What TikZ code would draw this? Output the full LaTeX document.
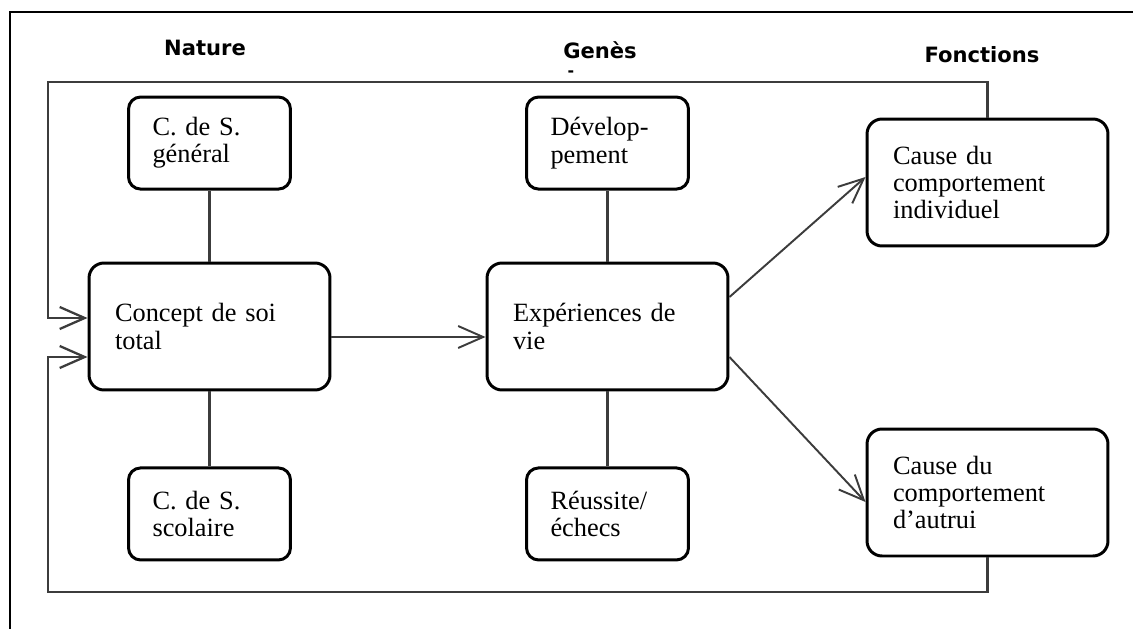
\documentclass[tikz,border=0pt]{standalone}
\usepackage{fontspec}
\setmainfont{Liberation Serif}
\newfontfamily\headfont{DejaVu Sans}
\usepackage{tikz}
\usetikzlibrary{arrows.meta, positioning}
\definecolor{linkgrey}{RGB}{60,60,60}
\tikzset{
  cssmall/.style={rectangle, rounded corners=0.24cm, draw=black, line width=1.7pt,
    minimum width=3.24cm, minimum height=1.84cm, text width=2.28cm, inner sep=0pt,
    align=left, font=\fontsize{15}{15.5}\selectfont},
  csbig/.style={rectangle, rounded corners=0.3cm, draw=black, line width=1.7pt,
    minimum width=4.82cm, minimum height=2.54cm, text width=3.78cm, inner sep=0pt,
    align=left, font=\fontsize{15}{15.5}\selectfont},
  cshead/.style={anchor=base, inner sep=0pt, font=\headfont\bfseries\fontsize{12}{14}\selectfont},
  csflow/.style={-{Straight Barb[length=5mm, width=4.4mm]}, draw=linkgrey, line width=1.1pt},
  cslink/.style={draw=linkgrey, line width=1.3pt},
  csloop/.style={-{Straight Barb[length=5mm, width=4.4mm]}, draw=linkgrey, line width=1.3pt},
}
\begin{document}
\begin{tikzpicture}[x=0.02cm, y=-0.02cm]
\useasboundingbox (0,0) rectangle (1133,629);
\draw[line width=1.1pt] (1133,12) -- (10,12) -- (10,629);

\node[cshead] (nature) at (205,55) {Nature};
\node[cshead] (genes) at (600,58) {Genès};
\node[cshead, font=\headfont\bfseries\fontsize{9}{10}\selectfont] (genesmark) at (571,76) {-};
\node[cshead] (fonctions) at (982,62) {Fonctions};

\node[csbig] (concept) at (209.5,326.5) {Concept de soi\\total};
\node[cssmall, above=1.42cm of concept] (general) {C. de S.\\général};
\node[cssmall, below=1.5cm of concept] (scolaire) {C. de S.\\scolaire};

\node[csbig] (vie) at (607.5,326.5) {Expériences de\\vie};
\node[cssmall, above=1.42cm of vie] (devel) {Dévelop-\\pement};
\node[cssmall, below=1.5cm of vie] (reussite) {Réussite/\\échecs};

\node[csbig] (indiv) at (987.5,182.5) {Cause du\\comportement\\individuel};
\node[csbig] (autrui) at (987.5,492.5) {Cause du\\comportement\\d’autrui};

\coordinate (looptop) at (48,82);
\coordinate (loopbot) at (48,592);

\draw[cslink] (general) -- (concept);
\draw[cslink] (concept) -- (scolaire);
\draw[cslink] (devel) -- (vie);
\draw[cslink] (vie) -- (reussite);

\draw[csflow] ([yshift=-0.21cm]concept.east) -- ([yshift=-0.21cm]vie.west);
\draw[csflow] ([yshift=0.59cm]vie.east) -- ([yshift=0.11cm]indiv.west);
\draw[csflow] ([yshift=-0.61cm]vie.east) -- ([yshift=-0.19cm]autrui.west);

\draw[csloop] (indiv.north) |- (looptop) |- ([yshift=0.17cm]concept.west);
\draw[csloop] (autrui.south) |- (loopbot) |- ([yshift=-0.61cm]concept.west);
\end{tikzpicture}
\end{document}
